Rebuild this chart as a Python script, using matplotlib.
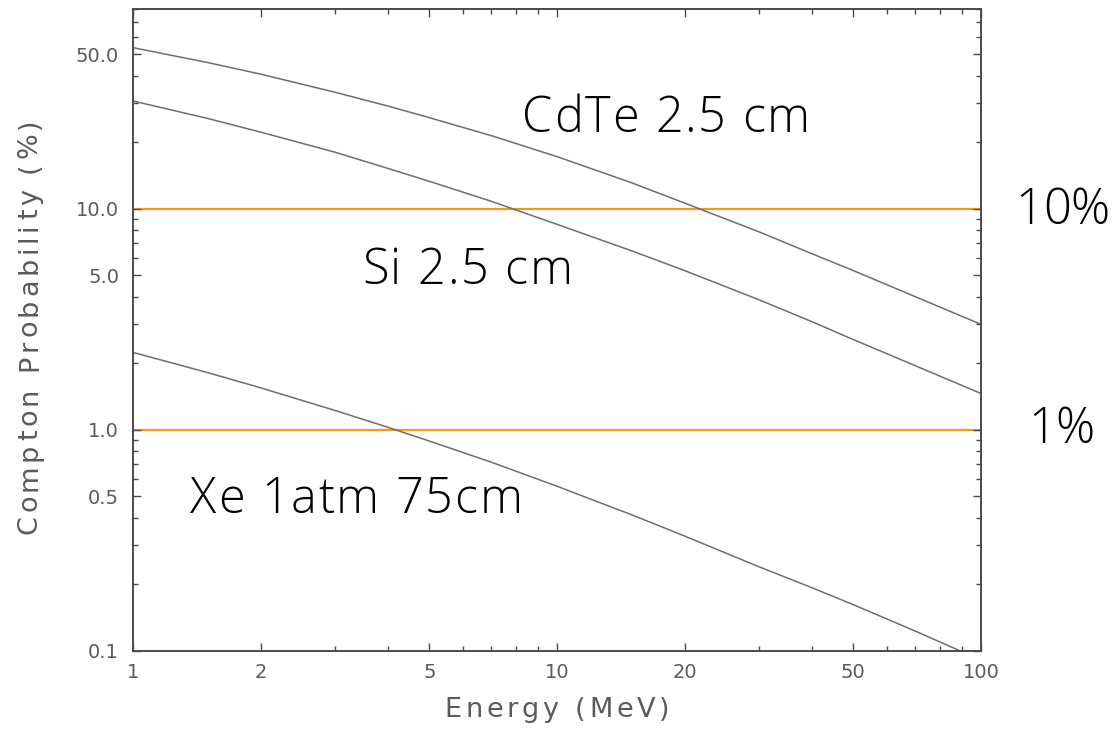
import matplotlib
matplotlib.use("Agg")
import matplotlib.pyplot as plt
from matplotlib.font_manager import FontProperties, findfont, get_font
from matplotlib.ticker import FixedLocator, FixedFormatter, NullFormatter

# Energy grid (MeV) and Compton probabilities (%)
energy = [1, 1.5, 2, 3, 4, 5, 7, 10, 15, 20, 30, 40, 50, 70, 100]
cdte = [53.5, 45.8, 40.6, 33.6, 29.1, 25.8, 21.4, 17.2, 13.1, 10.6, 7.85, 6.25, 5.25, 4.0, 3.0]
si = [30.7, 25.6, 22.2, 18.0, 15.2, 13.3, 10.8, 8.5, 6.45, 5.25, 3.87, 3.08, 2.56, 1.95, 1.46]
xe = [2.24, 1.815, 1.549, 1.223, 1.026, 0.89, 0.714, 0.556, 0.413, 0.331, 0.24, 0.193, 0.162, 0.123, 0.091]
thresholds = [10, 1]

curve_labels = ["CdTe 2.5 cm", "Si 2.5 cm", "Xe 1atm 75cm"]
threshold_labels = ["10%", "1%"]

x_major = [1, 2, 5, 10, 20, 50, 100]
x_major_labels = ["1", "2", "5", "10", "20", "50", "100"]
y_major = [0.1, 0.5, 1, 5, 10, 50]
y_major_labels = ["0.1", "0.5", "1.0", "5.0", "10.0", "50.0"]

W, H, DPI = 1119, 729, 100
fig = plt.figure(figsize=(W / DPI, H / DPI), dpi=DPI)
ax = fig.add_axes([133 / W, 1 - 651 / H, (981 - 133) / W, (651 - 9) / H])

ax.set_xscale("log")
ax.set_yscale("log")
ax.set_xlim(1, 100)
ax.set_ylim(0.1, 80)

line_kw = dict(color="#6e6e6e", lw=1.1, solid_capstyle="butt")
for series in (cdte, si, xe):
    ax.plot(energy, series, **line_kw)
for t in thresholds:
    ax.axhline(t, color="#f39a1c", lw=1.6, zorder=1)

# Axis frame and ticks
axis_grey = "#4a4a4a"
for sp in ax.spines.values():
    sp.set_color(axis_grey)
    sp.set_linewidth(1.4)

x_minor = [m * d for d in (1, 10) for m in range(2, 10)]
x_minor = [v for v in x_minor if v not in x_major]
y_minor = [m * d for d in (0.1, 1, 10) for m in range(2, 10)]
y_minor = [v for v in y_minor if v not in y_major and v <= 80]

ax.xaxis.set_major_locator(FixedLocator(x_major))
ax.xaxis.set_major_formatter(FixedFormatter(x_major_labels))
ax.xaxis.set_minor_locator(FixedLocator(x_minor))
ax.xaxis.set_minor_formatter(NullFormatter())
ax.yaxis.set_major_locator(FixedLocator(y_major))
ax.yaxis.set_major_formatter(FixedFormatter(y_major_labels))
ax.yaxis.set_minor_locator(FixedLocator(y_minor))
ax.yaxis.set_minor_formatter(NullFormatter())

ax.tick_params(which="both", direction="in", top=True, right=True,
               color=axis_grey, width=1.0)
ax.tick_params(which="major", length=6)
ax.tick_params(which="minor", length=3.5)
ax.tick_params(axis="both", which="major", labelsize=14, labelcolor="#5a5a5a")
ax.tick_params(axis="x", which="major", pad=9)
ax.tick_params(axis="y", which="major", pad=10)


def tracked_text(s, x_px, y_px, size, tracking, rotation=0, align="center",
                 family="DejaVu Sans", weight="normal", **kw):
    """Draw a string at (x_px, y_px) with extra spacing between letters."""
    prop = FontProperties(family=family, size=size, weight=weight)
    font = get_font(findfont(prop))
    font.set_size(size, DPI)
    adv = [font.load_char(ord(c)).linearHoriAdvance / 65536.0 for c in s]
    total = sum(adv) + tracking * (len(s) - 1)
    pos = -total / 2.0 if align == "center" else 0.0
    for c, a in zip(s, adv):
        if rotation == 90:
            px, py = x_px, y_px - pos
        else:
            px, py = x_px + pos, y_px
        fig.text(px / W, 1 - py / H, c, fontproperties=prop, rotation=rotation,
                 rotation_mode="anchor", ha="left", va="baseline", **kw)
        pos += a + tracking


tracked_text("Energy (MeV)", 557, 717, 19.5, 3.7, color="#5a5a5a")
tracked_text("Compton Probability (%)", 37, 326, 19.5, 3.8, rotation=90, color="#5a5a5a")

# Curve and threshold annotations
label_pos = [(522, 132), (362, 284), (190, 513)]
for text, (px, py) in zip(curve_labels, label_pos):
    tracked_text(text, px, py, 35, 1.8, align="left", family="Open Sans",
                 weight=300, color="black")
thr_pos = [(1015, 224), (1028, 443)]
for text, (px, py) in zip(threshold_labels, thr_pos):
    tracked_text(text, px, py, 35, 0.0, align="left", family="Open Sans",
                 weight=300, color="black")

fig.savefig("out.png", dpi=DPI, facecolor="white")
